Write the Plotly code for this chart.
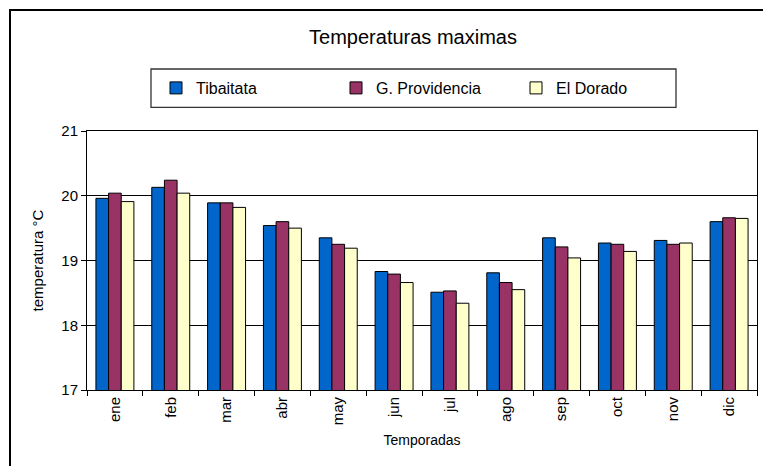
import plotly.graph_objects as go

months = ["ene", "feb", "mar", "abr", "may", "jun", "jul", "ago", "sep", "oct", "nov", "dic"]
tibaitata = [19.96, 20.13, 19.89, 19.54, 19.35, 18.83, 18.51, 18.81, 19.35, 19.27, 19.31, 19.60]
providencia = [20.04, 20.24, 19.89, 19.60, 19.25, 18.79, 18.53, 18.66, 19.21, 19.25, 19.25, 19.66]
dorado = [19.91, 20.04, 19.82, 19.50, 19.19, 18.66, 18.34, 18.55, 19.04, 19.14, 19.27, 19.65]

W, H = 763, 466
L, R, T, B = 87, 6, 131, 76
pw, ph = W - L - R, H - T - B


def px(x):
    return (x - L) / pw


def py(y):
    return (H - B - y) / ph


font = "Liberation Sans, Arial, sans-serif"
fig = go.Figure()
for name, vals, col in [("Tibaitata", tibaitata, "#0066CC"),
                        ("G. Providencia", providencia, "#993366"),
                        ("El Dorado", dorado, "#FFFFCC")]:
    fig.add_trace(go.Bar(x=months, y=vals, name=name, marker_color=col,
                         marker_line=dict(color="black", width=1)))

fig.update_layout(
    width=W, height=H,
    margin=dict(l=L, r=R, t=T, b=B, autoexpand=False),
    paper_bgcolor="white", plot_bgcolor="white",
    font=dict(family=font, size=14, color="black"),
    barmode="group", bargap=0.32, bargroupgap=0,
    title=dict(text="Temperaturas maximas", x=px(413), xref="paper", xanchor="center",
               y=1 - 37 / H, yref="container", yanchor="middle",
               font=dict(size=20, color="black")),
    legend=dict(orientation="h", x=px(156), y=py(88), xanchor="left", yanchor="middle",
                bgcolor="rgba(0,0,0,0)", borderwidth=0, entrywidth=135,
                font=dict(size=16), traceorder="normal"),
    xaxis=dict(showline=True, linecolor="black", linewidth=1, mirror=True, automargin=False,
               ticks="outside", ticklen=5, tickcolor="black", tickson="boundaries",
               tickangle=-90, tickfont=dict(size=15),
               title=dict(text="Temporadas", font=dict(size=14), standoff=10)),
    yaxis=dict(range=[17, 21], dtick=1, showline=True, linecolor="black", linewidth=1,
               mirror=True, ticks="outside", ticklen=5, tickcolor="black", automargin=False,
               showgrid=True, gridcolor="black", gridwidth=1, zeroline=False,
               tickfont=dict(size=15),
               title=dict(text="temperatura °C", font=dict(size=15), standoff=14)),
    shapes=[
        dict(type="line", xref="paper", yref="paper",
             x0=px(9), x1=px(775), y0=py(10), y1=py(10),
             line=dict(color="black", width=2), layer="above"),
        dict(type="line", xref="paper", yref="paper",
             x0=px(10), x1=px(10), y0=py(9), y1=py(480),
             line=dict(color="black", width=2), layer="above"),
        dict(type="rect", xref="paper", yref="paper",
             x0=px(151), x1=px(676), y0=py(69), y1=py(107.3),
             line=dict(color="#333333", width=1.3), fillcolor="rgba(0,0,0,0)", layer="above"),
    ],
)

fig.write_html("out.html", config={"displayModeBar": False},
               post_script="document.body.style.margin='0';")
